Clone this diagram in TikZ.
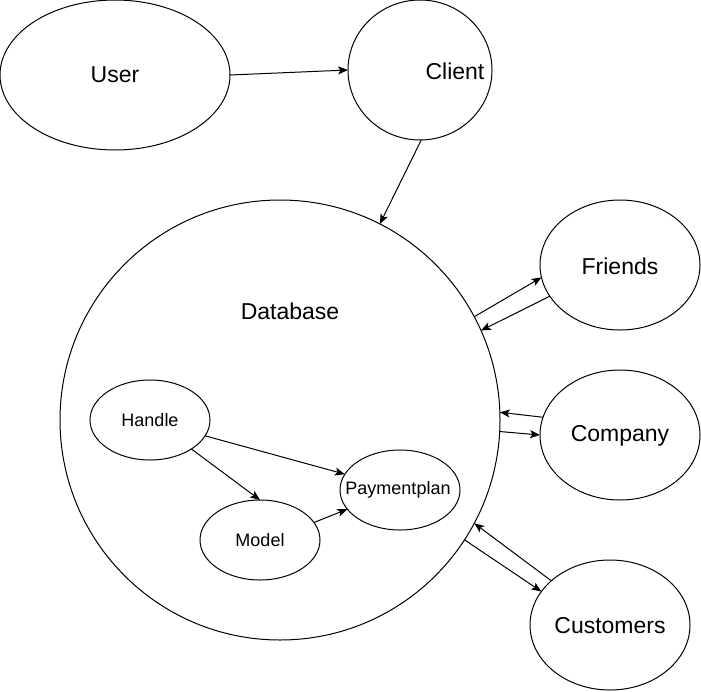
\documentclass[tikz,border=0pt]{standalone}
\usepackage{fontspec}
\setmainfont{Liberation Sans}
\usetikzlibrary{arrows.meta,shapes.geometric}
\begin{document}
\begin{tikzpicture}[x=1pt,y=-1pt,
  shp/.style={draw,ellipse,line width=1pt,inner sep=0pt,outer sep=0pt},
  big/.style={font=\fontsize{23}{27}\selectfont,inner sep=0pt},
  small/.style={font=\fontsize{18}{21}\selectfont,inner sep=0pt},
  arr/.style={-{Stealth[length=10pt,width=8pt,inset=2.5pt]},line width=1pt}]
\useasboundingbox (0,0) rectangle (701,691);
% shapes
\node[shp,minimum width=230pt,minimum height=150pt] (user) at (115,75) {};
\node[shp,minimum width=144pt,minimum height=140pt] (client) at (420,70) {};
\node[shp,circle,minimum size=440pt] (db) at (280,420) {};
\node[shp,minimum width=160pt,minimum height=130pt] (friends) at (620,265) {};
\node[shp,minimum width=160pt,minimum height=130pt] (company) at (620,435) {};
\node[shp,minimum width=160pt,minimum height=130pt] (customers) at (610,625) {};
\node[shp,minimum width=120pt,minimum height=80pt] (handle) at (150,420) {};
\node[shp,minimum width=120pt,minimum height=80pt] (model) at (260,540) {};
\node[shp,minimum width=120pt,minimum height=80pt] (payment) at (400,490) {};
% texts
\node[big] (usertxt) at (115,75) {User};
\node[big] (clienttxt) at (455,71) {Client};
\node[big] (dbtxt) at (290,311) {Database};
\node[big] (friendstxt) at (620,266) {Friends};
\node[big] (companytxt) at (620,436) {Company};
\node[big] (customerstxt) at (610,626) {Customers};
\node[small] (handletxt) at (150,420) {Handle};
\node[small] (modeltxt) at (260,540) {Model};
\node[small] (paymenttxt) at (398,490) {Paymentplan};
% connectors
\draw[arr] (user.0) -- (client.180);
\draw[arr] (client.271) -- (db.63.4);
\draw[arr] (db.28.6) -- (friends.189.7);
\draw[arr] (friends.204.6) -- (db.24.7);
\draw[arr] (company.167.7) -- (db.2.6);
\draw[arr] (db.-3.4) -- (company.180.7);
\draw[arr] (customers.143) -- (db.-28.2);
\draw[arr] (db.-33.4) -- (customers.154.5);
\draw[arr] (handle.-16) -- (payment.164);
\draw[arr] (handle.-35.5) -- (model.90);
\draw[arr] (model.18) -- (payment.200.8);
\end{tikzpicture}
\end{document}
